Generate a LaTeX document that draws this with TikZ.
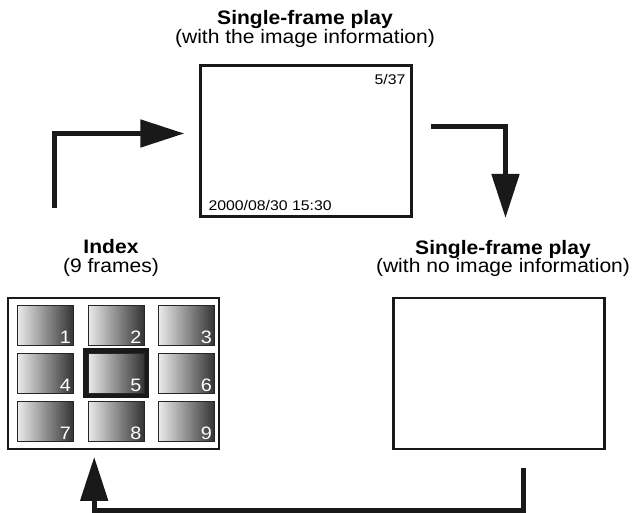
\documentclass[tikz,border=0pt]{standalone}
\usepackage{fontspec}
\setmainfont{Liberation Sans}
\usetikzlibrary{arrows.meta,calc}

\begin{document}
\begin{tikzpicture}[
  x=1pt, y=-1pt,
  >={Triangle[length=44pt,width=27pt]},
  every node/.style={inner sep=0pt},
  screen/.style={draw=black!90, line width=2.4pt, minimum width=211pt, minimum height=151pt},
  thumb/.style={draw=black!85, line width=1pt, minimum width=56pt, minimum height=40pt,
    left color=black!8, right color=black!80},
  title/.style={align=center, font=\fontsize{19.5}{18.5}\selectfont, xscale=1.08},
  infotext/.style={font=\fontsize{14}{14}\selectfont, xscale=1.13},
  digit/.style={font=\fontsize{18}{18}\selectfont, text=white, xscale=1.1},
  flow/.style={->, line width=5pt, draw=black!90}
]
  \useasboundingbox (0,0) rectangle (634,513);

  % The three screens
  \node[screen] (play)  at (306,141)   {};
  \node[screen] (plain) at (499,373.5) {};
  \node[screen] (index) at (113.5,373.5) {};

  \node[title, anchor=north] (playtitle)  at (305,10.5)  {\textbf{Single-frame play}\\(with the image information)};
  \node[title, anchor=north] (indextitle) at (111,239.5) {\textbf{Index}\\(9 frames)};
  \node[title, anchor=north] (plaintitle) at (503,240)   {\textbf{Single-frame play}\\(with no image information)};

  % Image information
  \node[infotext, anchor=base east] (count) at ($(play.north east)+(-7,20)$)  {5/37};
  \node[infotext, anchor=base west] (stamp) at ($(play.south west)+(9,-7)$)   {2000/08/30 15:30};

  % Thumbnails of the index
  \foreach \r in {0,1,2}{
    \foreach \c in {0,1,2}{
      \pgfmathtruncatemacro\k{3*\r+\c+1}
      \node[thumb] (t\k) at (45.5+70.5*\c, 325+48*\r) {};
      \node[digit, anchor=base east] (n\k) at ($(t\k.south east)+(-3,-2)$) {\k};
    }
  }
  \draw[line width=4.5pt, black!90] ($(t5.north west)+(-2.25,-2.25)$) rectangle ($(t5.south east)+(2.25,2.25)$);

  % The loop of the display modes
  \coordinate (upstart)  at (54,208);
  \coordinate (downend)  at (505.5,218);
  \draw[flow] (upstart) |- ([xshift=-15pt, yshift=7.5pt]play.west);
  \draw[flow] ([xshift=18pt, yshift=14pt]play.east) -| (downend);
  \draw[flow] ([xshift=24pt, yshift=-17.7pt]plain.south) -- ++(0,42.8)
    -| ([xshift=-19.3pt, yshift=-6.7pt]index.south);
\end{tikzpicture}
\end{document}
